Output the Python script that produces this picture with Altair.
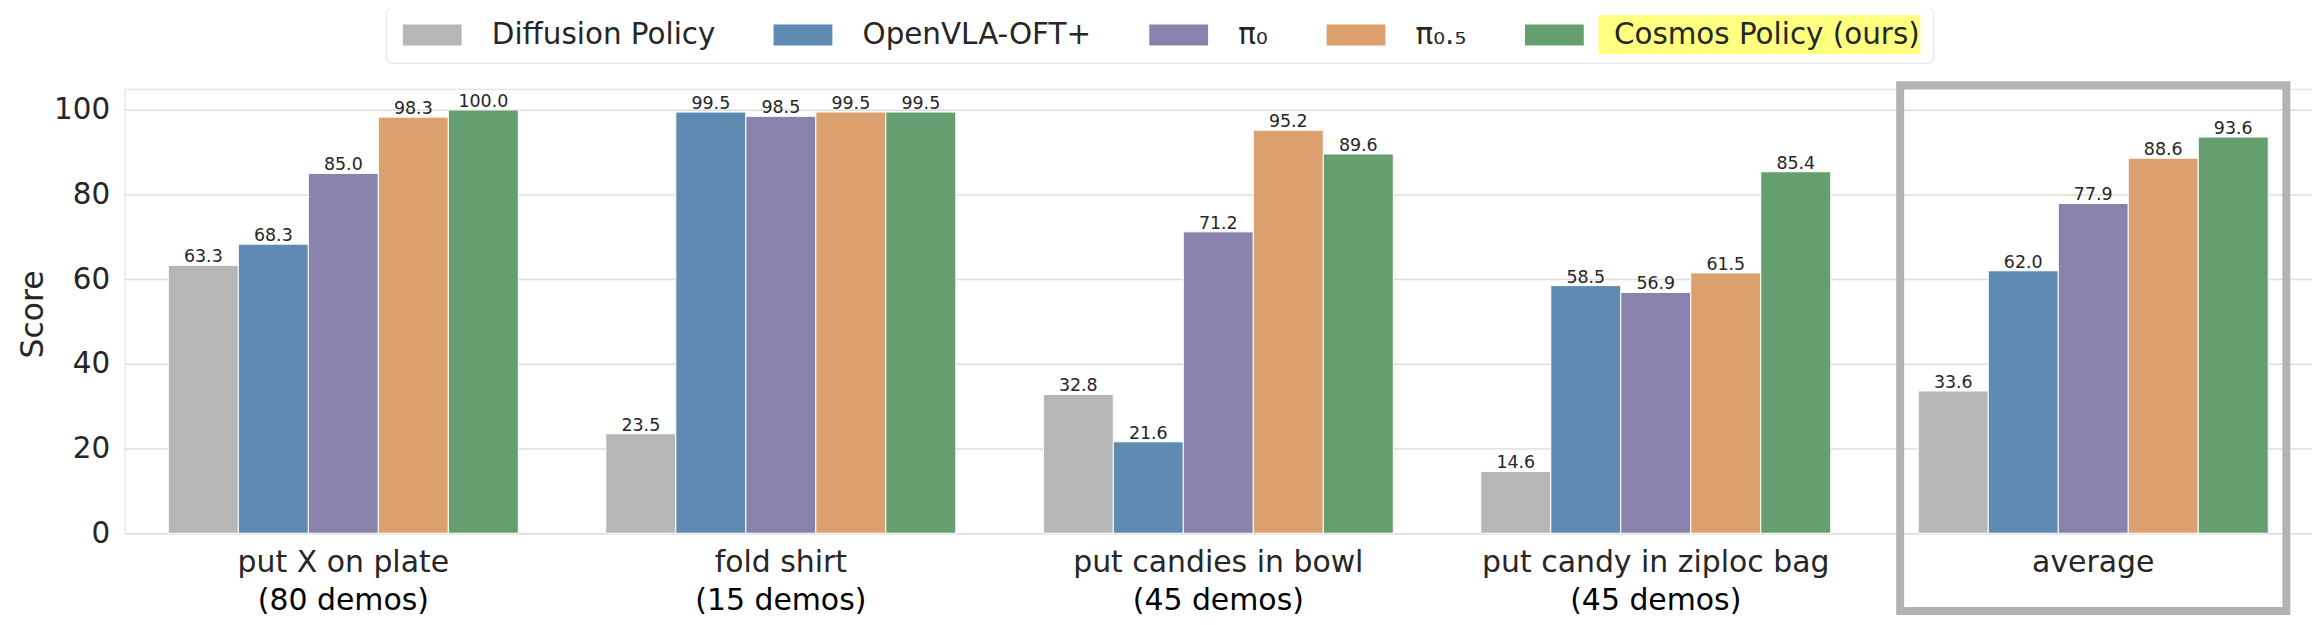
import altair as alt
import pandas as pd

# ---- data ----
tasks = ["put X on plate", "fold shirt", "put candies in bowl", "put candy in ziploc bag", "average"]
demos = ["(80 demos)", "(15 demos)", "(45 demos)", "(45 demos)", ""]
methods = ["Diffusion Policy", "OpenVLA-OFT+", "π₀", "π₀.₅", "Cosmos Policy (ours)"]
diffusion_policy = [63.3, 23.5, 32.8, 14.6, 33.6]
openvla_oft = [68.3, 99.5, 21.6, 58.5, 62.0]
pi0 = [85.0, 98.5, 71.2, 56.9, 77.9]
pi05 = [98.3, 99.5, 95.2, 61.5, 88.6]
cosmos = [100.0, 99.5, 89.6, 85.4, 93.6]
colors = ["#b6b6b6", "#5f8ab1", "#8882ad", "#dca06e", "#659f6f"]
highlight_task = ["average"]

series = [diffusion_policy, openvla_oft, pi0, pi05, cosmos]
rows = []
for m, vals in zip(methods, series):
    for t, v in zip(tasks, vals):
        rows.append({"task": t, "method": m, "score": v})
df = pd.DataFrame(rows)
demo_df = pd.DataFrame({"task": tasks, "demos": demos})
hl_df = pd.DataFrame({"task": highlight_task})

FONT = "DejaVu Sans"
TXT = "#262626"
W = 2195
H = 446

x_scale = alt.Scale(domain=tasks, paddingInner=0.2, paddingOuter=0.1)
off_scale = alt.Scale(domain=methods, paddingInner=0, paddingOuter=0)
y_scale = alt.Scale(domain=[0, 105], nice=False)

x_axis = alt.Axis(title=None, labelAngle=0, labelFontSize=30, labelColor=TXT, labelFont=FONT,
                  labelPadding=14, ticks=False, domain=False, grid=False, labelLimit=1000)
y_axis = alt.Axis(title="Score", titleFontSize=31.5, titleColor=TXT, titleFont=FONT,
                  titleFontWeight="normal", titleX=-82, titleY=226, titleBaseline="alphabetic",
                  titleAlign="center", titleAngle=270,
                  values=[0, 20, 40, 60, 80, 100], labelFontSize=29.5, labelColor=TXT, labelFont=FONT,
                  labelPadding=15, ticks=False, domain=False, gridColor="#dddddd", gridWidth=1.5)

legend = alt.Legend(title=None, orient="none", legendX=262, legendY=-82, direction="horizontal",
                    labelFontSize=29.5, labelColor=TXT, labelFont=FONT, labelOffset=64,
                    columnPadding=54, padding=13, strokeColor="#e2e2e2", cornerRadius=6,
                    symbolType="M-1,-1L4.619,-1L4.619,1L-1,1Z", symbolSize=441,
                    symbolStrokeWidth=0, labelLimit=1000)

base = alt.Chart(df)

yellow = alt.Chart(hl_df).mark_rect(color="#ffff80").encode(
    x=alt.value(1479), x2=alt.value(1802), y=alt.value(-74), y2=alt.value(-35)
)

bars = base.mark_bar(stroke="white", strokeWidth=1).encode(
    x=alt.X("task:N", scale=x_scale, sort=tasks, axis=x_axis),
    xOffset=alt.XOffset("method:N", scale=off_scale, sort=methods),
    y=alt.Y("score:Q", scale=y_scale, axis=y_axis),
    color=alt.Color("method:N", scale=alt.Scale(domain=methods, range=colors), sort=methods, legend=legend),
)

labels = base.mark_text(baseline="alphabetic", dy=-3, fontSize=17.5, color=TXT, font=FONT).encode(
    x=alt.X("task:N", scale=x_scale, sort=tasks),
    xOffset=alt.XOffset("method:N", scale=off_scale, sort=methods),
    y=alt.Y("score:Q", scale=y_scale),
    text=alt.Text("score:Q", format=".1f"),
)

demo_text = alt.Chart(demo_df).mark_text(baseline="alphabetic", fontSize=30, color="black", font=FONT).encode(
    x=alt.X("task:N", scale=x_scale, sort=tasks),
    y=alt.value(H + 76.7),
    text="demos:N",
)

hl_box = alt.Chart(hl_df).mark_bar(width=387.5, fillOpacity=0, stroke="#b3b3b3", strokeWidth=8).encode(
    x=alt.X("task:N", scale=x_scale, sort=tasks),
    y=alt.value(-3.5),
    y2=alt.value(524),
)

chart = alt.layer(yellow, bars, labels, demo_text, hl_box).properties(
    width=W, height=H,
    padding={"left": 117, "top": 80, "right": 0, "bottom": 83},
    autosize=alt.AutoSizeParams(type="none"),
).configure_view(strokeWidth=0).configure(font=FONT)

chart.save("out.html", embed_options={"renderer": "svg", "actions": False})
